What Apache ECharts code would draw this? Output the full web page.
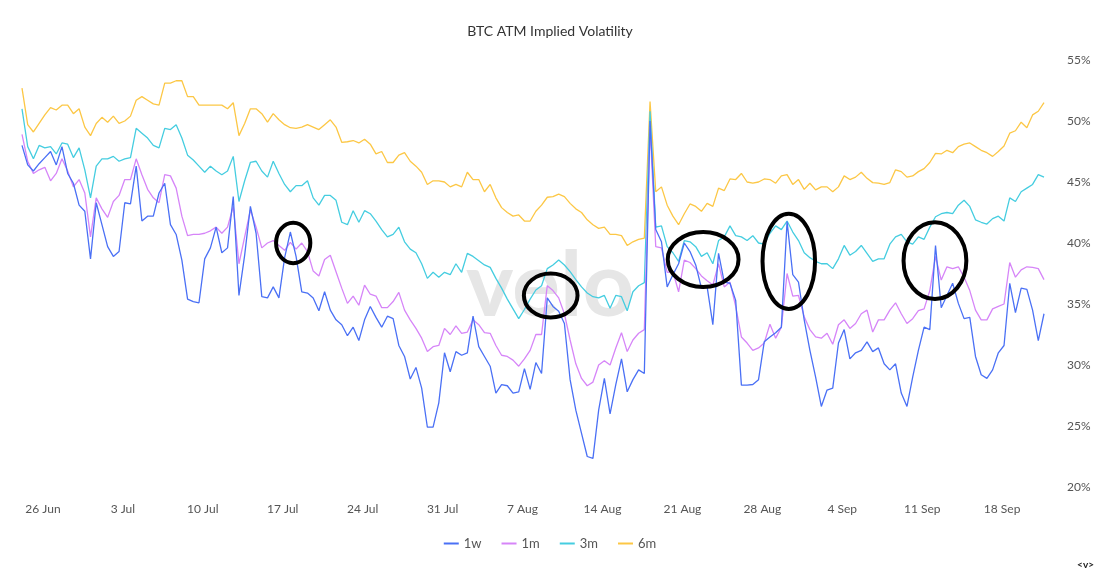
<!DOCTYPE html>
<html>
<head>
<meta charset="utf-8">
<title>BTC ATM Implied Volatility</title>
<script src="https://cdn.jsdelivr.net/npm/echarts@6/dist/echarts.min.js"></script>
<style>
  html, body { margin: 0; padding: 0; background: #fff; }
  #main { width: 1100px; height: 572px; }
</style>
</head>
<body>
<div id="main"></div>
<script>
// 12-hour samples, first one 24 Jun 04:00
var stepHours = 12;
var firstMondayHour = 44; // 26 Jun 00:00

var tickLabels = ['26 Jun', '3 Jul', '10 Jul', '17 Jul', '24 Jul', '31 Jul', '7 Aug',
  '14 Aug', '21 Aug', '28 Aug', '4 Sep', '11 Sep', '18 Sep'];

var vol1w = [48.0, 46.4, 45.9, 46.5, 47.0, 47.5, 46.4, 47.9, 45.7, 44.9,
  43.1, 42.6, 38.7, 43.3, 41.5, 39.7, 38.9, 39.3, 43.3, 43.2,
  46.3, 41.8, 42.2, 42.2, 44.1, 44.9, 41.5, 40.7, 38.6, 35.4,
  35.2, 35.1, 38.7, 39.6, 41.3, 39.2, 39.6, 43.8, 35.7, 39.0,
  43.0, 40.8, 35.6, 35.5, 36.4, 35.5, 38.8, 40.9, 38.9, 36.0,
  35.9, 35.5, 34.45, 36.0, 34.5, 33.7, 33.3, 32.4, 33.1, 32.0,
  33.7, 34.8, 33.9, 33.1, 34.0, 33.8, 31.6, 30.7, 28.85, 29.8,
  28.1, 24.9, 24.9, 26.9, 31.0, 29.45, 31.1, 30.8, 31.0, 34.0,
  31.5, 30.7, 29.9, 27.7, 28.4, 28.3, 27.7, 27.8, 29.7, 28.0,
  30.2, 29.3, 35.5, 34.8, 34.4, 33.4, 28.8, 26.3, 24.4, 22.5,
  22.35, 26.3, 28.9, 26.0, 28.4, 30.5, 27.8, 28.8, 29.6, 29.3,
  50.0, 41.1, 40.1, 36.4, 37.4, 38.3, 40.0, 39.3, 38.2, 36.3,
  36.4, 33.3, 39.15, 36.8, 36.7, 35.3, 28.35, 28.35, 28.4, 28.8,
  31.9, 32.3, 32.65, 33.1, 41.75, 37.4, 36.8, 33.7, 31.2, 29.0,
  26.6, 27.95, 28.1, 31.8, 32.9, 30.5, 31.0, 31.2, 31.9, 31.1,
  31.4, 30.1, 29.6, 30.1, 27.7, 26.6, 29.0, 31.2, 33.1, 32.9,
  39.8, 34.7, 35.7, 36.7, 35.05, 33.8, 33.9, 30.7, 29.2, 28.9,
  29.6, 31.0, 31.6, 36.7, 34.3, 36.3, 36.2, 34.5, 32.0, 34.2];

var vol1m = [48.9, 46.7, 45.7, 46.0, 46.2, 45.1, 45.7, 46.9, 45.9, 44.6,
  45.2, 44.1, 40.5, 43.7, 42.8, 42.1, 43.4, 43.9, 45.2, 45.2,
  46.9, 45.6, 44.4, 43.7, 43.3, 45.6, 45.5, 44.5, 42.2, 40.6,
  40.7, 40.7, 40.8, 41.0, 41.3, 40.8, 41.3, 43.0, 38.3, 40.5,
  42.7, 41.3, 39.6, 40.0, 40.2, 39.8, 39.4, 40.05, 39.5, 40.0,
  39.3, 37.7, 37.3, 38.65, 39.0, 37.65, 36.3, 35.05, 35.65, 34.9,
  36.55, 35.8, 35.65, 34.7, 34.7, 35.2, 35.95, 34.5, 33.7, 33.0,
  32.2, 31.1, 31.5, 31.6, 33.0, 32.5, 33.2, 32.6, 32.7, 33.7,
  33.3, 32.65, 32.6, 31.6, 30.8, 30.7, 30.4, 29.9, 30.5, 31.2,
  32.5, 32.5, 36.5, 36.1, 35.5, 34.2, 32.05, 30.1, 28.9, 28.3,
  28.6, 30.0, 30.35, 30.0, 31.4, 32.65, 31.1, 32.05, 32.6, 32.9,
  49.5, 39.7, 39.6, 37.6, 37.65, 36.0, 38.6, 38.4, 37.9, 37.3,
  36.9, 36.55, 38.3, 36.4, 36.8, 34.8, 32.3, 31.8, 31.2, 31.4,
  31.8, 33.35, 32.2, 33.1, 37.5, 35.65, 35.7, 33.96, 32.9, 32.3,
  32.2, 32.6, 31.7, 33.3, 33.7, 33.0, 33.4, 34.2, 34.5, 32.7,
  33.7, 33.7, 34.5, 35.1, 34.2, 33.4, 33.8, 34.45, 34.6, 36.1,
  38.9, 36.96, 38.05, 37.9, 38.05, 37.2, 36.1, 34.5, 33.7, 33.7,
  34.6, 34.8, 35.0, 38.4, 37.2, 37.8, 38.05, 38.0, 37.9, 37.0];

var vol3m = [51.0, 47.9, 46.9, 48.0, 47.8, 47.9, 47.3, 48.2, 48.1, 47.0,
  47.8, 46.0, 43.7, 46.3, 46.9, 46.9, 47.1, 46.7, 46.9, 47.0,
  49.4, 49.0, 48.6, 48.0, 47.8, 49.4, 49.3, 49.7, 48.6, 47.2,
  46.8, 46.3, 45.8, 46.3, 45.9, 45.6, 45.9, 47.1, 43.4, 45.1,
  46.6, 46.7, 45.9, 45.4, 46.7, 45.7, 44.8, 44.2, 44.7, 44.7,
  45.1, 43.7, 43.1, 43.9, 43.9, 43.5, 41.7, 41.5, 42.65, 41.7,
  42.65, 42.4, 41.8, 41.1, 40.5, 40.7, 41.3, 40.1, 39.5, 39.2,
  38.3, 37.1, 37.6, 37.2, 37.6, 37.4, 38.3, 37.6, 39.15, 38.9,
  38.55, 38.2, 38.0, 37.1, 36.3, 35.4, 34.6, 33.8, 34.55, 35.4,
  36.15, 36.5, 37.9, 38.2, 38.6, 38.2, 37.65, 37.0, 36.4, 35.9,
  35.6, 35.5, 35.7, 34.65, 35.7, 35.6, 34.45, 36.0, 36.5, 36.75,
  50.8, 41.3, 41.4, 39.7, 39.2, 38.5, 40.2, 40.1, 39.7, 38.9,
  39.2, 38.3, 40.2, 40.5, 41.4, 40.6, 40.5, 40.2, 40.6, 40.0,
  39.9, 40.8, 41.4, 41.1, 41.8, 40.9, 40.2, 39.2, 38.8, 38.5,
  38.3, 38.3, 37.9, 38.7, 39.8, 39.0, 39.3, 39.8, 39.15, 38.5,
  38.7, 38.7, 39.9, 40.5, 40.7, 40.1, 39.9, 40.5, 40.3, 41.3,
  42.15, 42.4, 42.5, 42.4, 43.1, 43.5, 43.0, 41.9, 41.7, 41.55,
  42.0, 42.2, 41.8, 43.7, 43.4, 44.2, 44.5, 44.8, 45.6, 45.4];

var vol6m = [52.7, 49.7, 49.1, 49.8, 50.5, 51.1, 50.9, 51.3, 51.3, 50.6,
  51.0, 49.5, 48.8, 49.8, 50.3, 49.9, 50.4, 49.8, 50.0, 50.4,
  51.7, 52.0, 51.7, 51.4, 51.3, 53.1, 53.1, 53.3, 53.3, 52.0,
  52.0, 51.3, 51.3, 51.3, 51.3, 51.3, 51.0, 51.5, 48.8, 49.8,
  51.0, 51.0, 50.6, 49.9, 50.6, 50.1, 49.7, 49.45, 49.4, 49.5,
  49.7, 49.5, 49.3, 49.7, 50.1, 49.5, 48.25, 48.3, 48.4, 48.2,
  48.5, 48.1, 47.3, 47.5, 46.6, 46.6, 47.2, 47.4, 46.7, 46.3,
  45.8, 44.8, 45.1, 45.1, 45.0, 44.6, 44.8, 44.6, 45.8, 45.2,
  45.2, 44.2, 44.8, 43.7, 42.9, 42.5, 42.2, 42.3, 41.8, 41.8,
  42.6, 43.1, 43.75, 43.8, 44.0, 43.8, 43.25, 42.8, 42.5, 41.9,
  41.5, 41.2, 41.3, 40.7, 40.7, 40.6, 39.8, 40.1, 40.3, 40.4,
  51.6, 44.2, 44.6, 43.1, 42.2, 41.5, 42.4, 43.2, 43.0, 42.6,
  43.25, 43.0, 44.5, 44.3, 45.25, 45.2, 45.7, 45.0, 44.9, 45.0,
  45.25, 45.2, 44.9, 45.5, 45.6, 44.8, 45.2, 44.4, 44.9, 44.35,
  44.6, 44.6, 44.2, 44.6, 45.5, 45.2, 45.4, 45.8, 45.3, 44.95,
  44.9, 44.8, 44.95, 46.0, 45.85, 45.4, 45.5, 45.85, 46.1, 46.6,
  47.35, 47.3, 47.6, 47.4, 47.9, 48.1, 48.2, 47.9, 47.6, 47.4,
  47.1, 47.5, 47.95, 49.0, 49.2, 49.9, 49.45, 50.5, 50.8, 51.5];

// circled spots: [sample index, value, half width (samples), half height (%)]
var circles = [
  [47.5, 40.0, 3.0, 1.65],
  [92.6, 35.7, 4.7, 1.8],
  [119.3, 38.65, 6.2, 2.25],
  [134.3, 38.5, 4.6, 3.9],
  [159.9, 38.55, 5.5, 3.15]
];

var tickHours = tickLabels.map(function (t, k) { return firstMondayHour + k * 168; });

function toPairs(arr) {
  return arr.map(function (v, i) { return [i * stepHours, v]; });
}

var myChart = echarts.init(document.getElementById('main'));
var font = 'Lato, "Noto Sans", sans-serif';

var option = {
  backgroundColor: '#fff',
  animation: false,
  textStyle: { fontFamily: font },
  title: {
    text: 'BTC ATM Implied Volatility',
    left: 'center',
    top: 19,
    textStyle: { fontSize: 14, fontWeight: 'normal', color: '#333', fontFamily: font }
  },
  legend: {
    data: ['1w', '1m', '3m', '6m'],
    bottom: 17,
    left: 'center',
    icon: 'rect',
    itemWidth: 15,
    itemHeight: 2,
    itemGap: 20,
    textStyle: { fontSize: 13, color: '#555', fontFamily: font }
  },
  grid: { left: 22, right: 56, top: 60, bottom: 85 },
  xAxis: {
    type: 'value',
    min: 0,
    max: (vol1w.length - 1) * stepHours,
    axisLine: { show: false },
    axisTick: { show: false },
    splitLine: { show: false },
    axisLabel: {
      customValues: tickHours,
      formatter: function (v) {
        var k = tickHours.indexOf(v);
        return k >= 0 ? tickLabels[k] : '';
      },
      margin: 16,
      fontSize: 12,
      color: '#555',
      fontFamily: font
    }
  },
  yAxis: {
    type: 'value',
    position: 'right',
    min: 20,
    max: 55,
    interval: 5,
    axisLine: { show: false },
    axisTick: { show: false },
    splitLine: { show: false },
    axisLabel: { formatter: '{value}%', margin: 23, fontSize: 12, color: '#555', fontFamily: font }
  },
  series: [
    { name: '6m', type: 'line', data: toPairs(vol6m), showSymbol: false, symbol: 'none',
      color: '#fcc745', lineStyle: { width: 1.3 } },
    { name: '3m', type: 'line', data: toPairs(vol3m), showSymbol: false, symbol: 'none',
      color: '#45cde0', lineStyle: { width: 1.3 } },
    { name: '1m', type: 'line', data: toPairs(vol1m), showSymbol: false, symbol: 'none',
      color: '#d685f8', lineStyle: { width: 1.3 } },
    { name: '1w', type: 'line', data: toPairs(vol1w), showSymbol: false, symbol: 'none',
      color: '#4a70f5', lineStyle: { width: 1.3 } }
  ]
};
myChart.setOption(option);

// watermark + hand drawn circles, placed from data coords
var graphics = [{
  type: 'text',
  z: -10,
  silent: true,
  style: {
    text: 'velo',
    x: 550,
    y: 287,
    textAlign: 'center',
    textVerticalAlign: 'middle',
    font: 'bold 90px Lato, "Noto Sans", sans-serif',
    fill: '#e6e6e6'
  }
}, {
  type: 'text',
  right: 6,
  bottom: 2,
  silent: true,
  style: { text: '<v>', font: 'bold 10px Lato, sans-serif', fill: '#222' }
}];
circles.forEach(function (c) {
  var ctr = myChart.convertToPixel({ gridIndex: 0 }, [c[0] * stepHours, c[1]]);
  var edge = myChart.convertToPixel({ gridIndex: 0 }, [(c[0] + c[2]) * stepHours, c[1] + c[3]]);
  graphics.push({
    type: 'ellipse',
    z: 100,
    silent: true,
    shape: { cx: ctr[0], cy: ctr[1], rx: Math.abs(edge[0] - ctr[0]), ry: Math.abs(ctr[1] - edge[1]) },
    style: { fill: 'none', stroke: '#000', lineWidth: 4 }
  });
});
myChart.setOption({ graphic: graphics });

window.addEventListener('resize', function () {
  myChart.resize();
});
</script>
</body>
</html>
